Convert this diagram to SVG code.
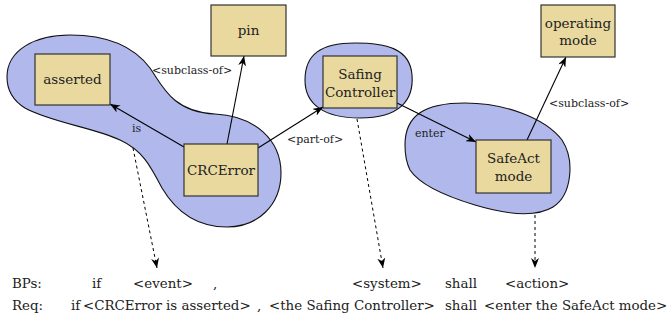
<svg xmlns="http://www.w3.org/2000/svg" width="670" height="327" viewBox="0 0 670 327">
<defs>
<style>
.blob{fill:#b0b8ec;stroke:#111;stroke-width:1.1}
.box{fill:#e9d99f;stroke:#333;stroke-width:1.2}
.nt{font-family:"DejaVu Serif",serif;font-size:13.5px;fill:#222;text-anchor:middle}
.lb{font-family:"DejaVu Serif",serif;font-size:11px;fill:#222}
.bt{font-family:"DejaVu Serif",serif;font-size:13.4px;fill:#222}
.ar{stroke:#000;stroke-width:1.1;fill:none;marker-end:url(#ah)}
.da{stroke:#000;stroke-width:1;fill:none;stroke-dasharray:3,3;marker-end:url(#ah)}
</style>
<marker id="ah" viewBox="0 0 10 8" refX="10" refY="4" markerWidth="10" markerHeight="8" markerUnits="userSpaceOnUse" orient="auto">
<path d="M0,0 L10,4 L0,8 L3,4 Z" fill="#000"/>
</marker>
</defs>
<g id="blobs">
<path class="blob" d="M7,77 C7,50 35,35 70,35 C110,35 135,48 150,68 C162,85 172,112 215,114 C255,116 281,140 281,173 C281,205 258,227 227,227 C195,227 175,210 162,188 C150,165 142,150 120,140 C95,128 50,122 25,108 C12,100 7,90 7,77 Z"/>
<path class="blob" d="M305,80 C305,55 320,43 355,43 C385,43 410,48 412,75 C414,100 400,118 360,118 C325,118 305,105 305,80 Z"/>
<path class="blob" d="M405,145 C405,115 425,103 465,103 C505,103 545,118 562,140 C575,160 572,195 553,207 C535,218 505,214 475,205 C445,196 420,185 410,170 C406,162 405,153 405,145 Z"/>
</g>
<g id="connectors">
<line class="ar" x1="184" y1="147" x2="110" y2="104"/>
<line class="ar" x1="227" y1="144" x2="244" y2="56"/>
<line class="ar" x1="258" y1="148" x2="323" y2="107"/>
<line class="ar" x1="397" y1="103" x2="476" y2="142"/>
<line class="ar" x1="527" y1="140" x2="566" y2="57"/>
<line class="da" x1="133" y1="148" x2="157" y2="268"/>
<line class="da" x1="357" y1="119" x2="383" y2="268"/>
<line class="da" x1="535" y1="215" x2="535" y2="268"/>
<text class="lb" x="152" y="74">&lt;subclass-of&gt;</text>
<text class="lb" x="132" y="132">is</text>
<text class="lb" x="287" y="143">&lt;part-of&gt;</text>
<text class="lb" x="415" y="137">enter</text>
<text class="lb" x="549" y="107">&lt;subclass-of&gt;</text>
</g>
<g id="pin">
<rect class="box" x="211" y="5" width="75" height="51"/>
<text class="nt" x="248.5" y="35">pin</text>
</g>
<g id="asserted">
<rect class="box" x="35" y="54" width="75" height="51"/>
<text class="nt" x="72.5" y="84">asserted</text>
</g>
<g id="crcerror">
<rect class="box" x="184" y="144" width="74" height="52"/>
<text class="nt" x="221" y="175">CRCError</text>
</g>
<g id="safing-controller">
<rect class="box" x="323" y="56" width="74" height="52"/>
<text class="nt" x="360" y="78.5">Safing</text>
<text class="nt" x="360" y="96.5">Controller</text>
</g>
<g id="safeact-mode">
<rect class="box" x="476" y="140" width="75" height="53"/>
<text class="nt" x="513.5" y="163">SafeAct</text>
<text class="nt" x="513.5" y="181">mode</text>
</g>
<g id="operating-mode">
<rect class="box" x="541" y="5" width="74" height="52"/>
<text class="nt" x="578" y="27.5">operating</text>
<text class="nt" x="578" y="45">mode</text>
</g>
<g id="sentences">
<text class="bt" x="12" y="288">BPs:</text>
<text class="bt" x="92" y="288">if</text>
<text class="bt" x="133" y="288">&lt;event&gt;</text>
<text class="bt" x="213" y="288">,</text>
<text class="bt" x="352" y="288">&lt;system&gt;</text>
<text class="bt" x="445" y="288">shall</text>
<text class="bt" x="505" y="288">&lt;action&gt;</text>
<text class="bt" x="12" y="310">Req:</text>
<text class="bt" x="71" y="310">if</text>
<text class="bt" x="83" y="310">&lt;CRCError is asserted&gt;</text>
<text class="bt" x="257" y="310">,</text>
<text class="bt" x="269" y="310">&lt;the Safing Controller&gt;</text>
<text class="bt" x="445" y="310">shall</text>
<text class="bt" x="484" y="310">&lt;enter the SafeAct mode&gt;</text>
</g>
</svg>
